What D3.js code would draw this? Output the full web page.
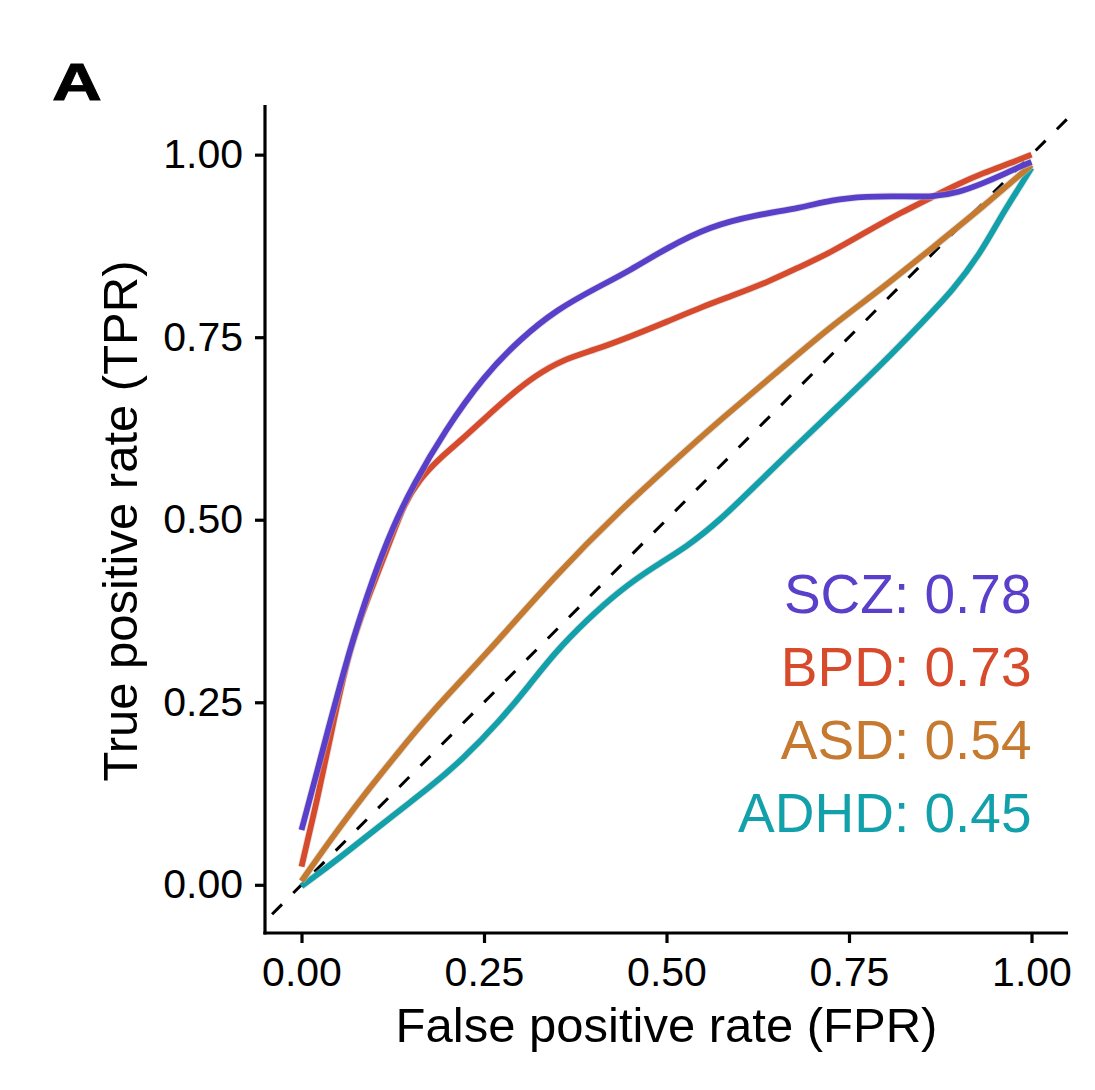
<!DOCTYPE html>
<html>
<head>
<meta charset="utf-8">
<script src="https://cdn.jsdelivr.net/npm/d3@7"></script>
<style>
  html, body { margin: 0; padding: 0; background: #ffffff; }
  svg { display: block; }
  text { font-family: "Liberation Sans", Arial, Helvetica, sans-serif; }
</style>
</head>
<body>
<svg id="chart" width="1095" height="1090"></svg>
<script>
// ---------------- data ----------------
const seriesNames = ["ADHD", "ASD", "BPD", "SCZ"];
const seriesColors = ["#12A0AA", "#C57A30", "#D74A2C", "#5A3FCA"];
const aucValues = [0.45, 0.54, 0.73, 0.78];
const labelY = [0.1, 0.2, 0.3, 0.4];

const adhdFPR = [0, 0.05, 0.129, 0.175, 0.22, 0.273, 0.311, 0.346, 0.391, 0.437, 0.483, 0.528, 0.574, 0.62, 0.67, 0.725, 0.8, 0.85, 0.893, 0.93, 0.958, 0.98, 1];
const adhdTPR = [-0.002, 0.035, 0.098, 0.133, 0.171, 0.226, 0.272, 0.317, 0.363, 0.404, 0.436, 0.463, 0.5, 0.545, 0.594, 0.646, 0.718, 0.77, 0.815, 0.865, 0.915, 0.95, 0.982];

const asdFPR = [0, 0.04, 0.083, 0.13, 0.172, 0.254, 0.346, 0.437, 0.528, 0.574, 0.65, 0.725, 0.793, 0.866, 0.934, 1];
const asdTPR = [0.005, 0.062, 0.12, 0.178, 0.23, 0.317, 0.422, 0.514, 0.596, 0.637, 0.701, 0.765, 0.815, 0.874, 0.929, 0.986];

const bpdFPR = [0, 0.02, 0.037, 0.065, 0.101, 0.125, 0.14, 0.161, 0.19, 0.22, 0.25, 0.289, 0.32, 0.357, 0.403, 0.451, 0.5, 0.55, 0.588, 0.64, 0.684, 0.725, 0.775, 0.82, 0.866, 0.9, 0.934, 0.97, 1];
const bpdTPR = [0.025, 0.11, 0.189, 0.326, 0.418, 0.48, 0.52, 0.555, 0.585, 0.61, 0.638, 0.673, 0.697, 0.719, 0.733, 0.751, 0.771, 0.792, 0.806, 0.826, 0.847, 0.866, 0.895, 0.92, 0.943, 0.96, 0.975, 0.988, 1.0];

const sczFPR = [0, 0.02, 0.047, 0.07, 0.097, 0.125, 0.152, 0.197, 0.25, 0.3, 0.35, 0.403, 0.451, 0.5, 0.56, 0.62, 0.684, 0.725, 0.775, 0.82, 0.866, 0.9, 0.934, 0.96, 0.98, 1];
const sczTPR = [0.075, 0.15, 0.253, 0.335, 0.418, 0.49, 0.546, 0.623, 0.697, 0.748, 0.788, 0.817, 0.842, 0.872, 0.902, 0.917, 0.927, 0.938, 0.943, 0.943, 0.942, 0.948, 0.961, 0.972, 0.982, 0.99];

const seriesFPR = [adhdFPR, asdFPR, bpdFPR, sczFPR];
const seriesTPR = [adhdTPR, asdTPR, bpdTPR, sczTPR];

const xTicks = [0, 0.25, 0.5, 0.75, 1];
const yTicks = [0, 0.25, 0.5, 0.75, 1];
const xTitle = "False positive rate (FPR)";
const yTitle = "True positive rate (TPR)";
const panelTag = "A";

// ---------------- layout ----------------
const svg = d3.select("#chart");
const panel = { left: 265, right: 1068, top: 105, bottom: 933 };

const x = d3.scaleLinear().domain([-0.05, 1.05]).range([panel.left, panel.right]);
const y = d3.scaleLinear().domain([-0.066, 1.068]).range([panel.bottom, panel.top]);

svg.append("defs").append("clipPath").attr("id", "panelClip")
  .append("rect")
  .attr("x", panel.left).attr("y", panel.top)
  .attr("width", panel.right - panel.left).attr("height", panel.bottom - panel.top);

const plot = svg.append("g").attr("clip-path", "url(#panelClip)");

// diagonal reference line
plot.append("line")
  .attr("x1", x(-0.05)).attr("y1", y(-0.05))
  .attr("x2", x(1.05)).attr("y2", y(1.05))
  .attr("stroke", "#000")
  .attr("stroke-width", 3)
  .attr("stroke-dasharray", "14,16")
  .attr("stroke-dashoffset", 20);

const line = d3.line()
  .x(d => x(d[0]))
  .y(d => y(d[1]))
  .curve(d3.curveBasis);

seriesNames.forEach((name, i) => {
  const pts = seriesFPR[i].map((f, j) => [f, seriesTPR[i][j]]);
  plot.append("path")
    .datum(pts)
    .attr("d", line)
    .attr("fill", "none")
    .attr("stroke", "#c8c8c8")
    .attr("stroke-opacity", 0.5)
    .attr("stroke-width", 7.5);
  plot.append("path")
    .datum(pts)
    .attr("d", line)
    .attr("fill", "none")
    .attr("stroke", seriesColors[i])
    .attr("stroke-width", 5.8)
    .attr("stroke-linecap", "butt");
});

// ---------------- axes ----------------
const xAxis = d3.axisBottom(x)
  .tickValues(xTicks)
  .tickFormat(d3.format(".2f"))
  .tickSize(10)
  .tickPadding(12)
  .tickSizeOuter(0);

const yAxis = d3.axisLeft(y)
  .tickValues(yTicks)
  .tickFormat(d3.format(".2f"))
  .tickSize(10)
  .tickPadding(12)
  .tickSizeOuter(0);

const gx = svg.append("g")
  .attr("transform", `translate(0,${panel.bottom})`)
  .call(xAxis);
const gy = svg.append("g")
  .attr("transform", `translate(${panel.left},0)`)
  .call(yAxis);

[gx, gy].forEach(g => {
  g.select(".domain").attr("stroke", "#000").attr("stroke-width", 3.2);
  g.selectAll(".tick line").attr("stroke", "#000").attr("stroke-width", 3.2);
  g.selectAll(".tick text")
    .attr("fill", "#000")
    .style("font-family", '"Liberation Sans", Arial, Helvetica, sans-serif')
    .style("font-size", "41px");
});
gx.select(".domain").attr("d", `M${panel.left - 1.6},0H${panel.right}`);
gy.select(".domain").attr("d", `M0,${panel.top}V${panel.bottom + 1.6}`);
gx.selectAll(".tick text").attr("dy", "0.71em").attr("y", 24);

// ---------------- titles ----------------
svg.append("text")
  .attr("x", (panel.left + panel.right) / 2)
  .attr("y", 1042)
  .attr("text-anchor", "middle")
  .style("font-size", "49px")
  .attr("fill", "#000")
  .text(xTitle);

svg.append("text")
  .attr("transform", `translate(137,${(panel.top + panel.bottom) / 2 + 2}) rotate(-90)`)
  .attr("text-anchor", "middle")
  .style("font-size", "49px")
  .attr("fill", "#000")
  .text(yTitle);

// panel tag
svg.append("text")
  .attr("transform", "translate(52,99.5) scale(1.33,1)")
  .style("font-size", "52px")
  .style("font-weight", "900")
  .attr("fill", "#000")
  .attr("stroke", "#000")
  .attr("stroke-width", 0.8)
  .text(panelTag);

// ---------------- AUC labels ----------------
seriesNames.forEach((name, i) => {
  svg.append("text")
    .attr("x", x(1))
    .attr("y", y(labelY[i]))
    .attr("dy", "0.36em")
    .attr("text-anchor", "end")
    .style("font-size", "55px")
    .attr("fill", seriesColors[i])
    .text(`${name}: ${aucValues[i].toFixed(2)}`);
});
</script>
</body>
</html>
